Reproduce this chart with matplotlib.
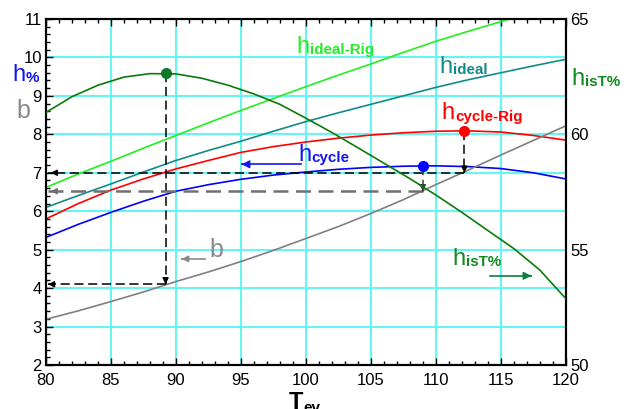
import matplotlib.pyplot as plt
from matplotlib.ticker import MultipleLocator

plt.rcParams['font.family'] = ['Liberation Sans', 'DejaVu Sans']

# evaporation temperature grid (left-axis curves), values read every 2.5 degrees
T_ev = [80, 82.5, 85, 87.5, 90, 92.5, 95, 97.5, 100,
        102.5, 105, 107.5, 110, 112.5, 115, 117.5, 120]
eta_ideal_rig = [6.62, 6.97, 7.30, 7.64, 7.97, 8.30, 8.62, 8.93, 9.24,
                 9.54, 9.83, 10.13, 10.42, 10.68, 10.93, 11.19, 11.45]
eta_ideal = [6.10, 6.41, 6.71, 7.02, 7.32, 7.58, 7.82, 8.08, 8.33,
             8.56, 8.78, 9.00, 9.22, 9.42, 9.60, 9.78, 9.95]
eta_cycle_rig = [5.80, 6.20, 6.55, 6.84, 7.10, 7.32, 7.53, 7.68, 7.80,
                 7.90, 7.98, 8.04, 8.08, 8.09, 8.06, 7.97, 7.85]
eta_cycle = [5.32, 5.66, 5.97, 6.26, 6.52, 6.69, 6.83, 6.94, 7.02,
             7.09, 7.14, 7.17, 7.18, 7.16, 7.11, 7.00, 6.84]
b_ratio = [3.19, 3.41, 3.65, 3.90, 4.17, 4.42, 4.69, 4.98, 5.29,
           5.60, 5.94, 6.30, 6.69, 7.07, 7.46, 7.84, 8.22]

# isentropic turbine efficiency (right axis), every 2 degrees
T_isT = [80, 82, 84, 86, 88, 90, 92, 94, 96, 98, 100,
         102, 104, 106, 108, 110, 112, 114, 116, 118, 120]
eta_isT = [60.95, 61.63, 62.13, 62.48, 62.63, 62.62, 62.43, 62.13, 61.75, 61.30, 60.70,
           60.08, 59.42, 58.75, 58.08, 57.37, 56.62, 55.83, 55.05, 54.12, 52.88]

# maxima and their read-off guides (left-axis units)
max_T = [89.2, 109.0, 112.2]
max_val = [9.6, 7.18, 8.09]
read_val = [4.1, 6.52, 7.0]
max_colors = ['#0b7a2e', '#0000ff', '#ff0000']
read_colors = ['black', '#707070', 'black']

C_GRID = '#66f4f4'
C_LGREEN = '#22ee22'
C_TEAL = '#138a8a'
C_RED = '#ff0000'
C_BLUE = '#0000ff'
C_DGREEN = '#0b7a0b'
C_GRAY = '#808080'

fig = plt.figure(figsize=(6.3, 4.09), dpi=100)
ax = fig.add_axes([0.073, 0.1076, 0.825, 0.846])
ax2 = ax.twinx()

ax.set_xlim(80, 120)
ax.set_ylim(2, 11)
ax2.set_ylim(50, 65)

ax.xaxis.set_major_locator(MultipleLocator(5))
ax.xaxis.set_minor_locator(MultipleLocator(1))
ax.yaxis.set_major_locator(MultipleLocator(1))
ax.yaxis.set_minor_locator(MultipleLocator(0.2))
ax2.yaxis.set_major_locator(MultipleLocator(5))

ax.grid(True, which='major', color=C_GRID, lw=1.5, zorder=0)
ax.set_axisbelow(True)
ax.tick_params(which='both', direction='in', top=True, right=False,
               labelsize=12, width=1)
ax.tick_params(which='major', length=5)
ax.tick_params(which='minor', length=3)
ax.tick_params(axis='x', pad=6)
ax.tick_params(axis='y', pad=3)
ax2.tick_params(direction='in', length=0, labelsize=12, pad=3)
for a in (ax, ax2):
    for s in a.spines.values():
        s.set_linewidth(1.5)

lw = 1.2
ax.plot(T_ev, eta_ideal_rig, color=C_LGREEN, lw=lw, zorder=3)
ax.plot(T_ev, eta_ideal, color=C_TEAL, lw=lw, zorder=3)
ax.plot(T_ev, eta_cycle_rig, color=C_RED, lw=lw, zorder=3)
ax.plot(T_ev, eta_cycle, color=C_BLUE, lw=lw, zorder=3)
ax.plot(T_ev, b_ratio, color=C_GRAY, lw=lw, zorder=3)
ax2.plot(T_isT, eta_isT, color=C_DGREEN, lw=lw, zorder=3)


def arrow(a, x0, y0, x1, y1, color, ls='--', lw=1.2, scale=9):
    a.plot([x0, x1], [y0, y1], color=color, ls=ls, lw=lw,
           dashes=(6, 3) if ls == '--' else (None, None), zorder=4)
    dx, dy = x1 - x0, y1 - y0
    a.annotate('', xy=(x1, y1), xytext=(x1 - 0.02 * dx, y1 - 0.02 * dy),
               arrowprops=dict(arrowstyle='-|>', color=color, lw=1, mutation_scale=scale),
               zorder=5)


for t, top, low, rc in zip(max_T, max_val, read_val, read_colors):
    arrow(ax, t, top, t, low, 'black' if rc == 'black' else '#404040', lw=1.1)
    arrow(ax, t, low, 80.15, low, rc, lw=1.1 if rc == 'black' else 1.8)

for t, v, c in zip(max_T, max_val, max_colors):
    ax.plot(t, v, 'o', color=c, ms=7, zorder=6)


def eta_label(x, y, sub, color, transform, size=17):
    h = ax.text(x, y, 'h', color=color, fontsize=size, transform=transform,
                va='baseline', zorder=7)
    ax.annotate(sub, xy=(1, 0), xycoords=h, xytext=(0.3, 2.6),
                textcoords='offset points', color=color, fontsize=size * 0.64,
                fontweight='bold', va='baseline', zorder=7)


eta_label(99.3, 10.115, 'ideal-Rig', C_LGREEN, ax.transData)
eta_label(110.26, 9.60, 'ideal', C_TEAL, ax.transData)
eta_label(110.44, 8.39, 'cycle-Rig', C_RED, ax.transData)
eta_label(99.4, 7.31, 'cycle', '#1515f0', ax.transData)
eta_label(111.3, 4.60, 'isT%', '#128a1e', ax.transData)
eta_label(12 / 630, 1 - 81 / 409, '%', '#1515f0', fig.transFigure)
eta_label(571 / 630, 1 - 85 / 409, 'isT%', '#128a1e', fig.transFigure)
ax.text(16 / 630, 1 - 118 / 409, 'b', color='#8a8a8a', fontsize=18,
        transform=fig.transFigure, va='baseline')
ax.text(92.6, 4.82, 'b', color='#8a8a8a', fontsize=18, va='baseline', zorder=7)

arrow(ax, 99.66, 7.22, 95.05, 7.22, '#1515f0', ls='-', lw=1.2, scale=12)
arrow(ax, 92.2, 4.76, 90.44, 4.76, '#8a8a8a', ls='-', lw=1.2, scale=10)
arrow(ax, 114.15, 4.32, 117.36, 4.32, '#0a7f3f', ls='-', lw=1.2, scale=12)

tl = fig.text(289 / 630, 0.0, 'T', fontsize=17, fontweight='bold', va='baseline')
ax.annotate('ev', xy=(1, 0), xycoords=tl, xytext=(0.3, 1.5),
            textcoords='offset points', fontsize=11, fontweight='bold', va='baseline')

fig.savefig('out.png', dpi=100)
